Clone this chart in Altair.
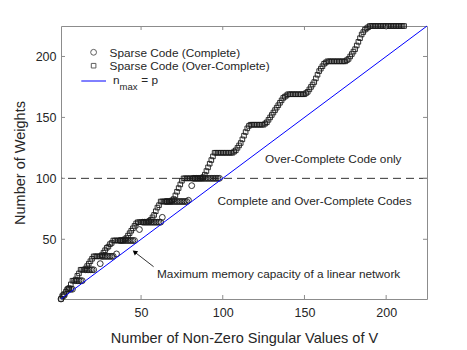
import altair as alt
import pandas as pd

# ---------------- data ----------------
# Over-complete sparse code: one point per number of non-zero singular values
over_x = list(range(1, 212))
over_y = [
    1, 3, 5, 7, 9, 10, 13, 16, 16, 17,
    20, 22, 25, 25, 25, 26, 28, 30, 32, 34,
    36, 36, 36, 36, 36, 37, 39, 41, 43, 44,
    46, 47, 49, 49, 49, 49, 49, 49, 49, 50,
    51, 53, 55, 57, 59, 61, 63, 64, 64, 64,
    64, 64, 64, 64, 65, 66, 68, 70, 73, 76,
    78, 81, 81, 81, 81, 81, 81, 81, 82, 83,
    86, 89, 92, 95, 98, 100, 100, 100, 100, 100,
    100, 100, 100, 100, 100, 100, 100, 101, 103, 106,
    109, 112, 115, 118, 121, 121, 121, 121, 121, 121,
    121, 121, 121, 121, 121, 121, 122, 123, 125, 127,
    129, 132, 135, 138, 141, 143, 144, 144, 144, 144,
    144, 144, 144, 144, 144, 145, 146, 148, 150, 152,
    154, 156, 158, 160, 162, 164, 166, 167, 168, 169,
    169, 169, 169, 169, 169, 169, 169, 169, 169, 169,
    170, 171, 173, 175, 177, 179, 182, 185, 188, 190,
    192, 194, 195, 196, 196, 196, 196, 196, 196, 196,
    196, 196, 196, 196, 196, 197, 198, 200, 202, 204,
    206, 209, 212, 215, 218, 220, 222, 223, 224, 225,
    225, 225, 225, 225, 225, 225, 225, 225, 225, 225,
    225, 225, 225, 225, 225, 225, 225, 225, 225, 225,
    225,
]

# Complete sparse code
comp_x = [1, 2, 3, 5, 6, 7, 8, 10, 11, 12, 13, 14,
          16, 17, 18, 19, 20, 21, 25,
          26, 27, 28, 29, 30, 31, 32, 33, 35,
          37, 38, 39, 40, 41, 42, 43, 44, 45, 46, 49,
          51, 52, 53, 54, 55, 56, 57, 58, 59, 60, 61, 62, 63,
          65, 66, 67, 68, 69, 70, 71, 72, 73, 74, 75, 76, 77, 78, 79, 81,
          82, 83, 84, 85, 86, 87, 88, 89, 90, 91, 92, 93, 94, 95, 96, 97, 98]
comp_y = [1, 4, 4, 9, 9, 9, 9, 16, 16, 16, 16, 16,
          25, 25, 25, 25, 25, 25, 30,
          36, 36, 36, 36, 36, 36, 36, 36, 38,
          49, 49, 49, 49, 49, 49, 49, 49, 49, 49, 58,
          64, 64, 64, 64, 64, 64, 64, 64, 64, 64, 64, 64, 68,
          81, 81, 81, 81, 81, 81, 81, 81, 81, 81, 81, 81, 81, 81, 82, 94,
          100, 100, 100, 100, 100, 100, 100, 100, 100, 100, 100, 100, 100, 100, 100, 100, 100]

line_x = [1, 225]
line_y = [1, 225]
threshold = 100
tick_values = [50, 100, 150, 200]
domain = [1, 225]

legend_labels = ["Sparse Code (Complete)", "Sparse Code (Over-Complete)"]
region_upper = "Over-Complete Code only"
region_lower = "Complete and Over-Complete Codes"
arrow_label = "Maximum memory capacity of a linear network"
x_title = "Number of Non-Zero Singular Values of V"
y_title = "Number of Weights"

# ---------------- layout ----------------
W, H = 366, 273
FONT = "Liberation Sans"
TXT = "#262626"
FRAME = "#8c8c8c"
MK = "#1a1a1a"

over_df = pd.DataFrame({"x": over_x, "y": over_y})
comp_df = pd.DataFrame({"x": comp_x, "y": comp_y})
line_df = pd.DataFrame({"x": line_x, "y": line_y})
tick_df = pd.DataFrame({"v": tick_values})
one = pd.DataFrame({"a": [0]})

xs = alt.Scale(domain=domain, nice=False, zero=False)
ys = alt.Scale(domain=domain, nice=False, zero=False)
x_axis = alt.Axis(values=tick_values, title=x_title, labelPadding=7, titlePadding=13)
y_axis = alt.Axis(values=tick_values, title=y_title, labelPadding=5, titlePadding=8)


def X(field):
    return alt.X(field, type="quantitative", scale=xs, axis=x_axis)


def Y(field):
    return alt.Y(field, type="quantitative", scale=ys, axis=y_axis)


blue = alt.Chart(line_df).mark_line(color="#0000ff", strokeWidth=1).encode(
    x=X("x"), y=Y("y"))

dashed = alt.Chart(one).mark_rule(color="#333333", strokeWidth=1, strokeDash=[8, 5]).encode(
    y=alt.datum(threshold, type="quantitative", scale=ys, axis=y_axis))

C_SIZE, S_SIZE, SW = 34, 21, 1.0

circles = alt.Chart(comp_df).mark_point(
    shape="circle", filled=False, color=MK, size=C_SIZE, strokeWidth=SW, opacity=0.9
).encode(x=X("x"), y=Y("y"))

squares = alt.Chart(over_df).mark_point(
    shape="square", filled=False, color=MK, size=S_SIZE, strokeWidth=SW, opacity=0.9
).encode(x=X("x"), y=Y("y"))

# inward ticks on the four sides of the box
tb = alt.Chart(tick_df).mark_rule(color=FRAME, strokeWidth=1).encode(
    x=X("v"), y=alt.value(H), y2=alt.value(H - 4))
tt = alt.Chart(tick_df).mark_rule(color=FRAME, strokeWidth=1).encode(
    x=X("v"), y=alt.value(0), y2=alt.value(4))
tl = alt.Chart(tick_df).mark_rule(color=FRAME, strokeWidth=1).encode(
    y=Y("v"), x=alt.value(0), x2=alt.value(4))
tr = alt.Chart(tick_df).mark_rule(color=FRAME, strokeWidth=1).encode(
    y=Y("v"), x=alt.value(W), x2=alt.value(W - 4))


def txt(s, px, py, size=11.8, align="left", color=TXT):
    return alt.Chart(one).mark_text(
        text=s, font=FONT, fontSize=size, align=align, baseline="middle", color=color
    ).encode(x=alt.value(px), y=alt.value(py))


# legend (inside the plot, top left)
leg_c = alt.Chart(one).mark_point(shape="circle", filled=False, color=MK,
                                  size=C_SIZE, strokeWidth=SW).encode(
    x=alt.value(32.6), y=alt.value(26.3))
leg_s = alt.Chart(one).mark_point(shape="square", filled=False, color=MK,
                                  size=S_SIZE, strokeWidth=SW).encode(
    x=alt.value(32.6), y=alt.value(39.7))
leg_l = alt.Chart(one).mark_rule(color="#0000ff", strokeWidth=1).encode(
    x=alt.value(20.3), x2=alt.value(45), y=alt.value(55))
leg_t1 = txt(legend_labels[0], 48.6, 26.5)
leg_t2 = txt(legend_labels[1], 48.6, 40)
leg_n = txt("n", 52, 53.5)
leg_max = txt("max", 58.5, 61.3, size=9.5)
leg_eq = txt("= p", 80.3, 53.5)

# region labels
t_up = txt(region_upper, 272.3, 133, align="center")
t_low = txt(region_lower, 253.5, 174.7, align="center")
t_arrow = txt(arrow_label, 96, 248.3)

arrow_line = alt.Chart(one).mark_rule(color="#000000", strokeWidth=0.8).encode(
    x=alt.value(92.6), y=alt.value(240.7), x2=alt.value(74), y2=alt.value(226.3))
arrow_head = alt.Chart(one).mark_point(
    shape="triangle-up", filled=True, color="#000000", size=30, angle=307.7, opacity=1
).encode(x=alt.value(73.6), y=alt.value(226.0))

chart = alt.layer(
    dashed, circles, squares, blue, tb, tt, tl, tr,
    leg_c, leg_s, leg_l, leg_t1, leg_t2, leg_n, leg_max, leg_eq,
    t_up, t_low, t_arrow, arrow_line, arrow_head,
).properties(
    width=W, height=H,
    padding={"left": 53, "top": 18, "right": 30, "bottom": 50},
    autosize=alt.AutoSizeParams(type="none"),
    background="white",
).configure_view(
    stroke=FRAME, strokeWidth=1
).configure_axis(
    labelFont=FONT, labelFontSize=12.5, labelColor=TXT,
    titleFont=FONT, titleFontSize=14.5, titleFontWeight="normal", titleColor=TXT,
    domain=False, ticks=False, grid=False,
)

chart.save("out.html", embed_options={"renderer": "svg", "actions": False})
